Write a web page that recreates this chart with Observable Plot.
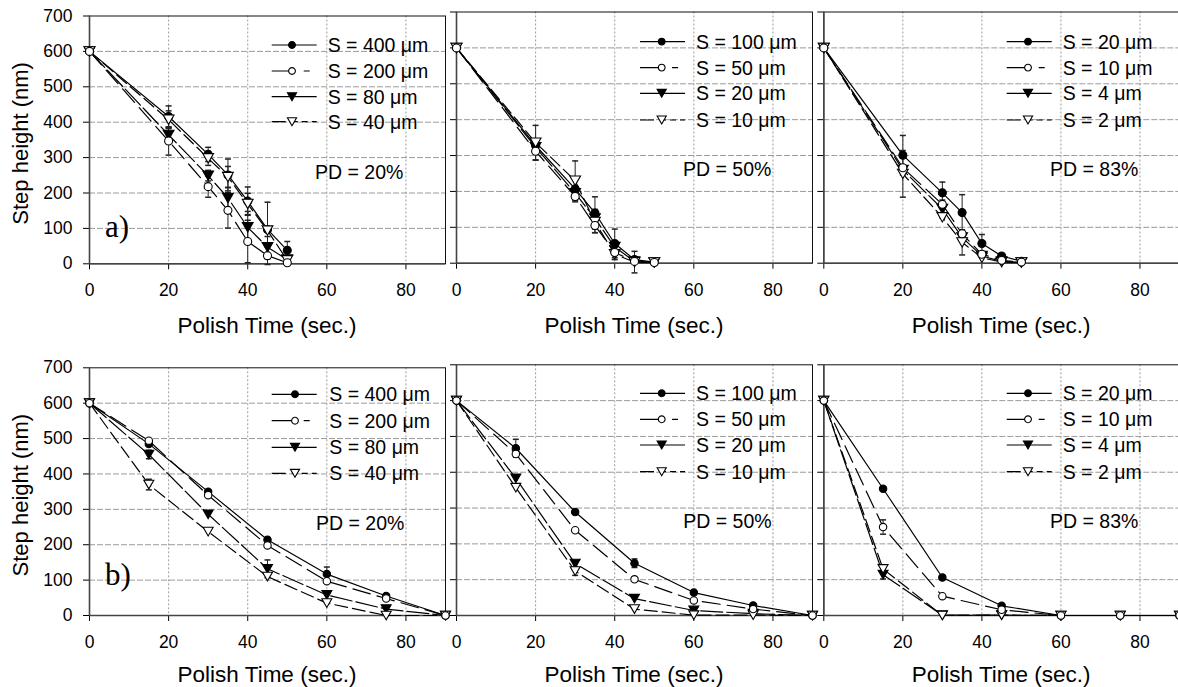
<!DOCTYPE html>
<html><head><meta charset="utf-8">
<script src="https://cdn.jsdelivr.net/npm/d3@7"></script>
<script src="https://cdn.jsdelivr.net/npm/@observablehq/plot@0.6"></script>
<style>
body{margin:0;background:#fff;}
#chart{position:relative;width:1178px;height:687px;overflow:hidden;background:#fff;}
#chart svg{position:absolute;left:0;top:0;}
</style></head><body><div id="chart"></div>
<script>
// ---------- data ----------
const timesA = [0, 20, 30, 35, 40, 45, 50];
const timesB = [0, 15, 30, 45, 60, 75, 90];
const xTicks = [0, 20, 40, 60, 80];
const yTicks = [0, 100, 200, 300, 400, 500, 600, 700];
const gridYVals = [100, 200, 300, 400, 500, 600];
const gridXVals = [20, 40, 60, 80];

const labelsPD20 = ["S = 400 μm", "S = 200 μm", "S = 80 μm", "S = 40 μm"];
const labelsPD50 = ["S = 100 μm", "S = 50 μm", "S = 20 μm", "S = 10 μm"];
const labelsPD83 = ["S = 20 μm", "S = 10 μm", "S = 4 μm", "S = 2 μm"];
const pdLabels = ["PD = 20%", "PD = 50%", "PD = 83%"];
const rowTags = ["a)", "b)"];

// row a) values
const a20_s1 = [600, 416, 309, 251, 177, 97, 38];
const a20_s2 = [600, 347, 218, 151, 63, 23, 3];
const a20_s3 = [600, 364, 249, 186, 103, 47, 12];
const a20_s4 = [600, 407, 298, 245, 169, 94, 10];
const a20_e1 = [0, 30, 20, 45, 40, 0, 25];
const a20_e2 = [0, 40, 30, 50, 60, 25, 0];
const a20_e3 = [0, 20, 15, 30, 45, 30, 0];
const a20_e4 = [0, 25, 20, 30, 30, 80, 0];

const a50_s1 = [600, 328, 207, 140, 55, 10, 3];
const a50_s2 = [600, 312, 186, 105, 30, 5, 2];
const a50_s3 = [600, 323, 195, 125, 45, 5, 2];
const a50_s4 = [600, 336, 230, 115, 25, 3, 2];
const a50_e1 = [0, 0, 0, 45, 40, 0, 0];
const a50_e2 = [0, 25, 15, 20, 20, 0, 0];
const a50_e3 = [0, 0, 0, 25, 0, 0, 0];
const a50_e4 = [0, 48, 55, 30, 0, 30, 0];

const a83_s1 = [600, 301, 196, 141, 55, 20, 5];
const a83_s2 = [600, 266, 164, 82, 25, 8, 3];
const a83_s3 = [600, 260, 151, 72, 20, 5, 2];
const a83_s4 = [600, 249, 128, 58, 15, 3, 2];
const a83_e1 = [0, 55, 30, 50, 25, 0, 0];
const a83_e2 = [0, 0, 0, 0, 0, 0, 0];
const a83_e3 = [0, 0, 25, 0, 0, 0, 0];
const a83_e4 = [0, 65, 0, 35, 0, 0, 0];

// row b) values
const b20_s1 = [600, 485, 350, 214, 117, 55, 0];
const b20_s2 = [600, 494, 340, 198, 97, 48, 0];
const b20_s3 = [600, 455, 286, 132, 58, 18, 0];
const b20_s4 = [600, 370, 237, 110, 35, 0, 0];
const b20_e1 = [0, 0, 0, 0, 20, 0, 0];
const b20_e2 = [0, 0, 0, 0, 0, 0, 0];
const b20_e3 = [0, 12, 0, 25, 0, 0, 0];
const b20_e4 = [0, 15, 0, 0, 0, 0, 0];

const b50_s1 = [600, 467, 289, 146, 64, 28, 0];
const b50_s2 = [600, 451, 238, 101, 42, 18, 0];
const b50_s3 = [600, 383, 145, 47, 14, 5, 0];
const b50_s4 = [600, 357, 124, 18, 1, 1, 0];
const b50_e1 = [0, 25, 0, 12, 0, 0, 0];
const b50_e2 = [0, 0, 0, 0, 0, 0, 0];
const b50_e3 = [0, 0, 0, 0, 0, 0, 0];
const b50_e4 = [0, 0, 12, 0, 0, 0, 0];

const b83_s1 = [600, 354, 106, 27, 0, 0, 0];
const b83_s2 = [600, 247, 54, 16, 0, 0, 0];
const b83_s3 = [600, 114, 1, 1, 0, 0, 0];
const b83_s4 = [600, 130, 0, 1, 0, 0, 0];
const b83_e1 = [0, 0, 0, 0, 0, 0, 0];
const b83_e2 = [0, 20, 0, 0, 0, 0, 0];
const b83_e3 = [0, 12, 0, 0, 0, 0, 0];
const b83_e4 = [0, 0, 0, 0, 0, 0, 0];

const panels = [
  {row: 0, col: 0, times: timesA, vals: [a20_s1, a20_s2, a20_s3, a20_s4], errs: [a20_e1, a20_e2, a20_e3, a20_e4], labels: labelsPD20},
  {row: 0, col: 1, times: timesA, vals: [a50_s1, a50_s2, a50_s3, a50_s4], errs: [a50_e1, a50_e2, a50_e3, a50_e4], labels: labelsPD50},
  {row: 0, col: 2, times: timesA, vals: [a83_s1, a83_s2, a83_s3, a83_s4], errs: [a83_e1, a83_e2, a83_e3, a83_e4], labels: labelsPD83},
  {row: 1, col: 0, times: timesB, vals: [b20_s1, b20_s2, b20_s3, b20_s4], errs: [b20_e1, b20_e2, b20_e3, b20_e4], labels: labelsPD20},
  {row: 1, col: 1, times: timesB, vals: [b50_s1, b50_s2, b50_s3, b50_s4], errs: [b50_e1, b50_e2, b50_e3, b50_e4], labels: labelsPD50},
  {row: 1, col: 2, times: timesB, vals: [b83_s1, b83_s2, b83_s3, b83_s4], errs: [b83_e1, b83_e2, b83_e3, b83_e4], labels: labelsPD83}
];

// ---------- layout / style ----------
const FONT = '"Liberation Sans", Arial, sans-serif';
const W = 1180, H = 687;
const geomX = [[89, 445], [456, 812], [823.3, 1179]];
const geomY = [
  [[15.5, 263.3], [11.5, 262.7], [11.5, 262.7]],
  [[367.3, 615], [364.3, 615], [364.3, 615]]
];
const titleBaseline = [333, 682];
const lineDash = [null, "18,7", "22,4", "13,5"];
const legendDash = [null, "20,12,6,20", "21,2,40", "14,6,6,4,6,4,10"];
const legendLayout = [
  [{sx: 271.7, mx: 292, tx: 327.7, rows: [45, 71, 96.7, 121.7], pdx: 315, pdy: 171.7},
   {sx: 640, mx: 661.7, tx: 696, rows: [41.6, 67.6, 93.3, 120], pdx: 683, pdy: 169},
   {sx: 1006.7, mx: 1028, tx: 1062.7, rows: [41.6, 67.6, 93.3, 120], pdx: 1050, pdy: 169}],
  [{sx: 271.7, mx: 295, tx: 329.3, rows: [394.3, 420.7, 447.3, 473.3], pdx: 316, pdy: 522.7},
   {sx: 640, mx: 661.7, tx: 696, rows: [393.3, 419.3, 445, 471.7], pdx: 683.3, pdy: 520.7},
   {sx: 1006.7, mx: 1028, tx: 1062.7, rows: [393.3, 419.3, 445, 471.7], pdx: 1050, pdy: 520.7}]
];
const dotOrder = [2, 0, 3, 1];

const S3 = Math.sqrt(3);
const triDown = {draw(ctx, size) {
  const t = Math.sqrt(size / (S3 * 3));
  ctx.moveTo(0, 1.5 * t);
  ctx.lineTo(-S3 * t, -1.5 * t);
  ctx.lineTo(S3 * t, -1.5 * t);
  ctx.closePath();
}};
const capSym = {draw(ctx, size) {
  const w = Math.sqrt(size / Math.PI);
  ctx.moveTo(-w, 0);
  ctx.lineTo(w, 0);
}};
const symbols = ["circle", "circle", triDown, triDown];
const fills = ["#000", "#fff", "#000", "#fff"];

const chart = document.getElementById("chart");

panels.forEach(p => {
  const [x0, x1] = geomX[p.col];
  const [yT, yB] = geomY[p.row][p.col];
  const rows = [];
  p.vals.forEach((vals, si) => vals.forEach((v, i) => rows.push({t: p.times[i], v, e: p.errs[si][i], s: si})));
  const errRows = rows.filter(d => d.e > 0);
  const r = p.row === 0 ? 4 : 3.7;
  const marks = [
    Plot.ruleY(gridYVals, {stroke: "#9a9a9a", strokeWidth: 1, strokeDasharray: "6,2"}),
    Plot.ruleX(gridXVals, {stroke: "#9a9a9a", strokeWidth: 1, strokeDasharray: "2,2"}),
    Plot.frame({stroke: "#111", strokeWidth: 1}),
    Plot.ruleX([0], {stroke: "#444", strokeWidth: 1.6}),
    Plot.ruleY([0], {stroke: "#444", strokeWidth: 1.6})
  ];
  for (let si = 0; si < 4; si++) {
    marks.push(Plot.line(rows.filter(d => d.s === si), {x: "t", y: "v", stroke: "#000", strokeWidth: 1.2, strokeDasharray: lineDash[si]}));
  }
  marks.push(Plot.ruleX(errRows, {x: "t", y1: d => d.v - d.e, y2: d => d.v + d.e, stroke: "#222", strokeWidth: 1}));
  marks.push(Plot.dot(errRows, {x: "t", y: d => d.v + d.e, symbol: capSym, r: 3, stroke: "#222", fill: "none"}));
  marks.push(Plot.dot(errRows, {x: "t", y: d => d.v - d.e, symbol: capSym, r: 3, stroke: "#222", fill: "none"}));
  dotOrder.forEach(si => {
    marks.push(Plot.dot(rows.filter(d => d.s === si), {x: "t", y: "v", symbol: symbols[si], r, fill: fills[si], stroke: "#000", strokeWidth: 1.1}));
  });
  const svg = Plot.plot({
    width: W, height: H,
    marginLeft: x0, marginRight: W - x1, marginTop: yT, marginBottom: H - yB,
    style: {fontFamily: FONT, fontSize: "17.5px", background: "transparent", color: "#000", maxWidth: "none", overflow: "visible"},
    x: {domain: [0, 90], ticks: xTicks, tickSize: 6, tickPadding: 14, label: null},
    y: {domain: [0, 700], ticks: yTicks, tickSize: 6, tickPadding: 11, label: null,
        tickFormat: p.col === 0 ? (d => String(d)) : (() => "")},
    marks
  });
  chart.appendChild(svg);
});

// ---------- text overlay: titles, legends, labels ----------
const ov = d3.select(chart).append("svg")
  .attr("width", 1178).attr("height", 687)
  .style("font-family", FONT).style("pointer-events", "none");

[0, 1].forEach(row => {
  const [yT, yB] = geomY[row][0];
  ov.append("text").attr("transform", `translate(20,${(yT + yB) / 2 + 4}) rotate(-90)`)
    .attr("text-anchor", "middle").attr("dy", "0.36em")
    .style("font-size", "22px").text("Step height (nm)");
  [0, 1, 2].forEach(col => {
    const [x0, x1] = geomX[col];
    ov.append("text").attr("x", (x0 + x1) / 2).attr("y", titleBaseline[row])
      .attr("text-anchor", "middle").style("font-size", "22.5px").text("Polish Time (sec.)");
  });
  ov.append("text").attr("x", 105).attr("y", row === 0 ? 237 : 585)
    .style("font-family", '"Liberation Serif", "Times New Roman", serif').style("font-size", "31px")
    .text(rowTags[row]);
});

panels.forEach(p => {
  const L = legendLayout[p.row][p.col];
  p.labels.forEach((lab, si) => {
    const y = L.rows[si];
    const g = ov.append("g");
    const ln = g.append("line").attr("x1", L.sx).attr("x2", L.sx + 45).attr("y1", y).attr("y2", y)
      .attr("stroke", "#000").attr("stroke-width", 1.2);
    if (legendDash[si]) ln.attr("stroke-dasharray", legendDash[si]);
    const sym = d3.symbol().type(si < 2 ? d3.symbolCircle : triDown).size(Math.PI * 3.4 * 3.4);
    g.append("path").attr("d", sym()).attr("transform", `translate(${L.mx},${y})`)
      .attr("fill", fills[si]).attr("stroke", "#000").attr("stroke-width", 1.1);
    ov.append("text").attr("x", L.tx).attr("y", y + 7).style("font-size", "19.5px").text(lab);
  });
  ov.append("text").attr("x", L.pdx).attr("y", L.pdy + 7).style("font-size", "19.5px").text(pdLabels[p.col]);
});
</script>
</body></html>
